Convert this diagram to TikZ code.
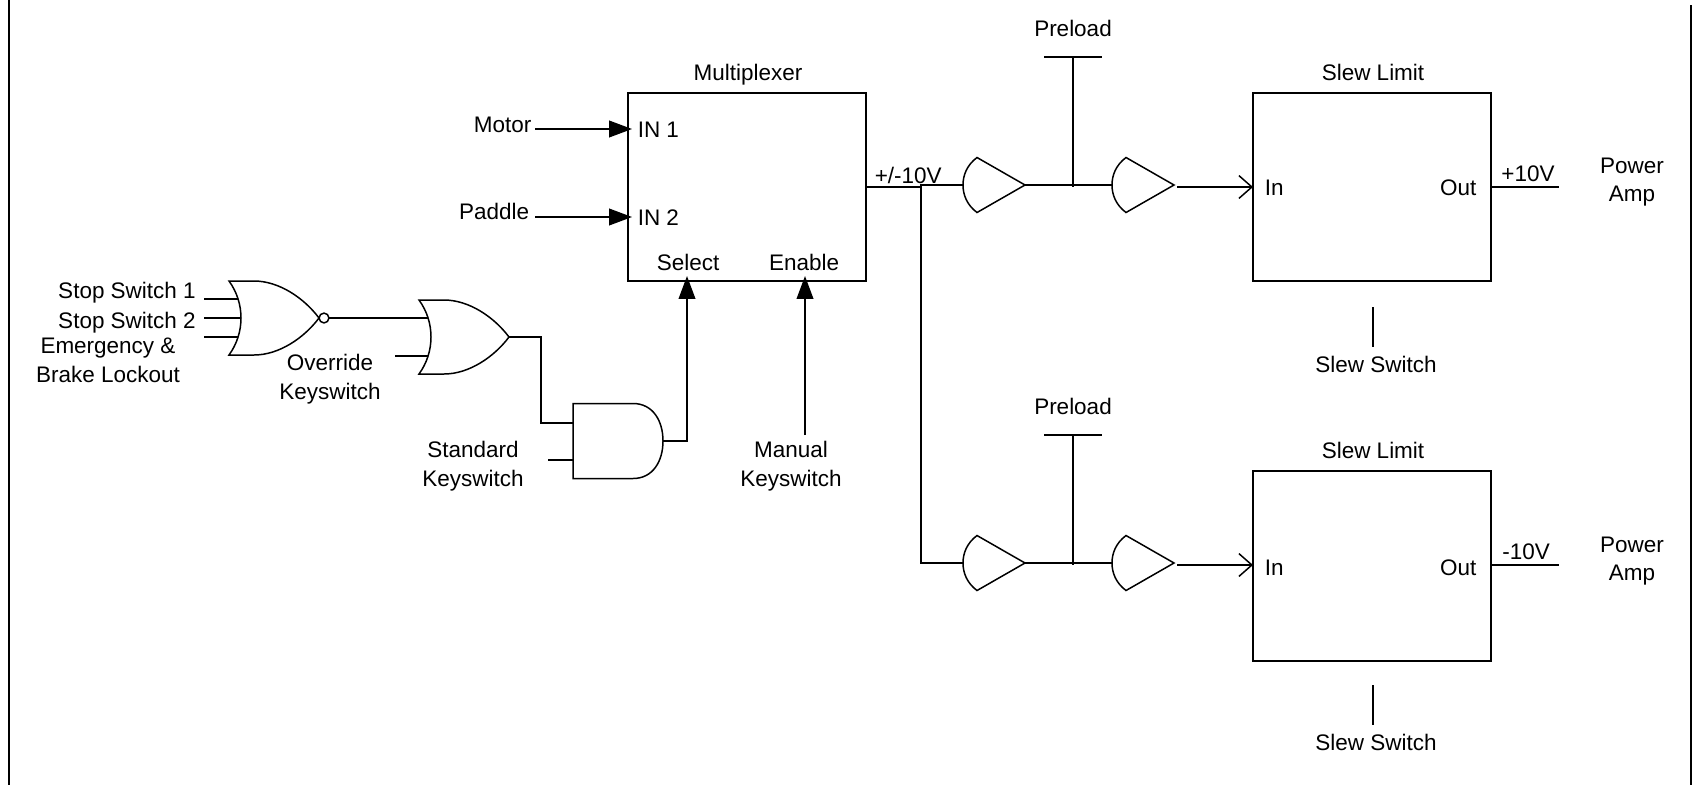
\documentclass[tikz,border=0pt]{standalone}
\usepackage{fontspec}
\setmainfont{Liberation Sans}
\usetikzlibrary{arrows.meta}
\tikzset{
  lbl/.style={inner sep=0pt,align=center,font=\fontsize{12.8}{16.4}\selectfont},
  blockbox/.style={draw,inner sep=0pt,outer sep=0pt,minimum width=4.76cm},
  solidarrow/.style={-{Triangle[length=13pt,width=9.5pt]}},
  openarrow/.style={-{Straight Barb[length=7.4pt,width=13pt]}},
  orgate/.pic={
    \draw (0,-37) -- (25,-37) .. controls (50,-37) and (75,-20) .. (90,0)
      .. controls (75,20) and (50,37) .. (25,37) -- (0,37)
      .. controls (16,15) and (16,-15) .. (0,-37) -- cycle;
    \coordinate (-in1) at (9,-19);
    \coordinate (-in0) at (12,0);
    \coordinate (-in2) at (9,19);
    \coordinate (-out) at (90,0);
  },
  norgate/.pic={
    \draw (0,-37) -- (25,-37) .. controls (50,-37) and (75,-20) .. (90,0)
      .. controls (75,20) and (50,37) .. (25,37) -- (0,37)
      .. controls (16,15) and (16,-15) .. (0,-37) -- cycle;
    \draw (95,0) circle [radius=2.8pt];
    \coordinate (-in1) at (9,-19);
    \coordinate (-in0) at (12,0);
    \coordinate (-in2) at (9,19);
    \coordinate (-out) at (100,0);
  },
  andgate/.pic={
    \draw (0,-37.5) -- (60,-37.5) .. controls (80,-37.5) and (90,-20) .. (90,0)
      .. controls (90,20) and (80,37.5) .. (60,37.5) -- (0,37.5) -- cycle;
    \coordinate (-in1) at (0,-18);
    \coordinate (-in2) at (0,19);
    \coordinate (-out) at (90,0);
  },
  bufgate/.pic={
    \draw (14,-27.5) -- (62,0) -- (14,27.5) .. controls (4,20) and (0,10) .. (0,0)
      .. controls (0,-10) and (4,-20) .. (14,-27.5) -- cycle;
    \coordinate (-in) at (0,0);
    \coordinate (-out) at (62,0);
  }
}
\begin{document}
\begin{tikzpicture}[x=0.02cm,y=-0.02cm,line width=0.85pt]
        \useasboundingbox (0,0) rectangle (1692,785);
        \coordinate (lefttop) at (9,0);
        \coordinate (leftbot) at (9,785);
        \coordinate (righttop) at (1691,5);
        \coordinate (rightbot) at (1691,785);
        \draw (lefttop) -- (leftbot);
        \draw (righttop) -- (rightbot);

        \node[blockbox,minimum height=3.76cm] (mux) at (747,187) {};
        \node[lbl] (muxlbl) at (748,75) {Multiplexer};
        \node[lbl,anchor=west] (inalbl) at (637,130) {IN 1};
        \node[lbl,anchor=west] (inblbl) at (637,218) {IN 2};
        \node[lbl] (sellbl) at (688,262) {Select};
        \node[lbl] (enlbl) at (804,262) {Enable};
        \node[lbl,anchor=east] (motorlbl) at (532,125) {Motor};
        \node[lbl,anchor=east] (paddlelbl) at (530,211) {Paddle};
        \coordinate (motorend) at (535,129);
        \coordinate (motorpin) at (632,129);
        \coordinate (paddleend) at (535,217);
        \coordinate (paddlepin) at (632,217);
        \draw [solidarrow] (motorend) -- (motorpin);
        \draw [solidarrow] (paddleend) -- (paddlepin);

        \pic (nora) at (229,318) {norgate};
        \pic (orb) at (419,337) {orgate};
        \pic (andg) at (573,441) {andgate};
        \node[lbl] (stopalbl) at (127,293) {Stop Switch 1};
        \node[lbl] (stopblbl) at (127,323) {Stop Switch 2};
        \node[lbl] (emerglbl) at (108,360) {Emergency \&\\Brake Lockout};
        \node[lbl] (overlbl) at (330,379) {Override\\Keyswitch};
        \node[lbl] (stdlbl) at (473,466) {Standard\\Keyswitch};
        \node[lbl] (manlbl) at (791,466) {Manual\\Keyswitch};
        \coordinate (stopaend) at (204,299);
        \coordinate (stopbend) at (204,318);
        \coordinate (emergend) at (204,337);
        \coordinate (overend) at (395,356);
        \coordinate (stdend) at (548,460);
        \coordinate (andjog) at (541,423);
        \coordinate (selpin) at (687,276);
        \coordinate (enpin) at (805,276);
        \coordinate (manend) at (805,435);
        \draw (stopaend) -- (nora-in1);
        \draw (stopbend) -- (nora-in0);
        \draw (emergend) -- (nora-in2);
        \draw (nora-out) -- (orb-in1);
        \draw (overend) -- (orb-in2);
        \draw (orb-out) -| (andjog) -- (andg-in1);
        \draw (stdend) -- (andg-in2);
        \draw [solidarrow] (andg-out) -| (selpin);
        \draw [solidarrow] (manend) -- (enpin);

        \pic (ua) at (963,185) {bufgate};
        \pic (ub) at (1112,185) {bufgate};
        \pic (la) at (963,563) {bufgate};
        \pic (lb) at (1112,563) {bufgate};
        \node[lbl,anchor=west] (swinglbl) at (874,175) {+/-10V};
        \coordinate (muxout) at (867,187);
        \coordinate (branch) at (921,185);
        \draw (muxout) -- (muxout -| branch);
        \draw (ua-in) -- (branch) |- (la-in);
        \draw (ua-out) -- (ub-in);
        \draw (la-out) -- (lb-in);

        \node[lbl] (uprelbl) at (1073,28) {Preload};
        \coordinate (ubarl) at (1044,57);
        \coordinate (ubarr) at (1102,57);
        \coordinate (ujoin) at (1073,187);
        \draw (ubarl) -- (ubarr);
        \draw (ujoin |- ubarl) -- (ujoin);
        \node[lbl] (lprelbl) at (1073,406) {Preload};
        \coordinate (lbarl) at (1044,435);
        \coordinate (lbarr) at (1102,435);
        \coordinate (ljoin) at (1073,565);
        \draw (lbarl) -- (lbarr);
        \draw (ljoin |- lbarl) -- (ljoin);

        \node[blockbox,minimum height=3.76cm] (ulimit) at (1372,187) {};
        \node[lbl] (ulimlbl) at (1373,72) {Slew Limit};
        \node[lbl,anchor=west] (uinlbl) at (1264,188) {In};
        \node[lbl,anchor=east] (uoutlbl) at (1477,188) {Out};
        \node[lbl] (uvlbl) at (1528,174) {+10V};
        \node[lbl] (upowlbl) at (1632,182) {Power\\Amp};
        \node[lbl] (uswlbl) at (1376,364) {Slew Switch};
        \coordinate (ubout) at (1177,187);
        \coordinate (uoutend) at (1559,187);
        \coordinate (uswtop) at (1373,307);
        \coordinate (uswbot) at (1373,347);
        \draw [openarrow] (ubout) -- (ubout -| ulimit.west);
        \draw (ulimit.east) -- (uoutend);
        \draw (uswtop) -- (uswbot);

        \node[blockbox,minimum height=3.8cm] (llimit) at (1372,566) {};
        \node[lbl] (llimlbl) at (1373,450) {Slew Limit};
        \node[lbl,anchor=west] (linlbl) at (1264,568) {In};
        \node[lbl,anchor=east] (loutlbl) at (1477,568) {Out};
        \node[lbl] (lvlbl) at (1526,552) {-10V};
        \node[lbl] (lpowlbl) at (1632,561) {Power\\Amp};
        \node[lbl] (lswlbl) at (1376,742) {Slew Switch};
        \coordinate (lbout) at (1177,565);
        \coordinate (loutend) at (1559,565);
        \coordinate (lswtop) at (1373,685);
        \coordinate (lswbot) at (1373,725);
        \draw [openarrow] (lbout) -- (lbout -| llimit.west);
        \draw (loutend -| llimit.east) -- (loutend);
        \draw (lswtop) -- (lswbot);
      \end{tikzpicture}
\end{document}
